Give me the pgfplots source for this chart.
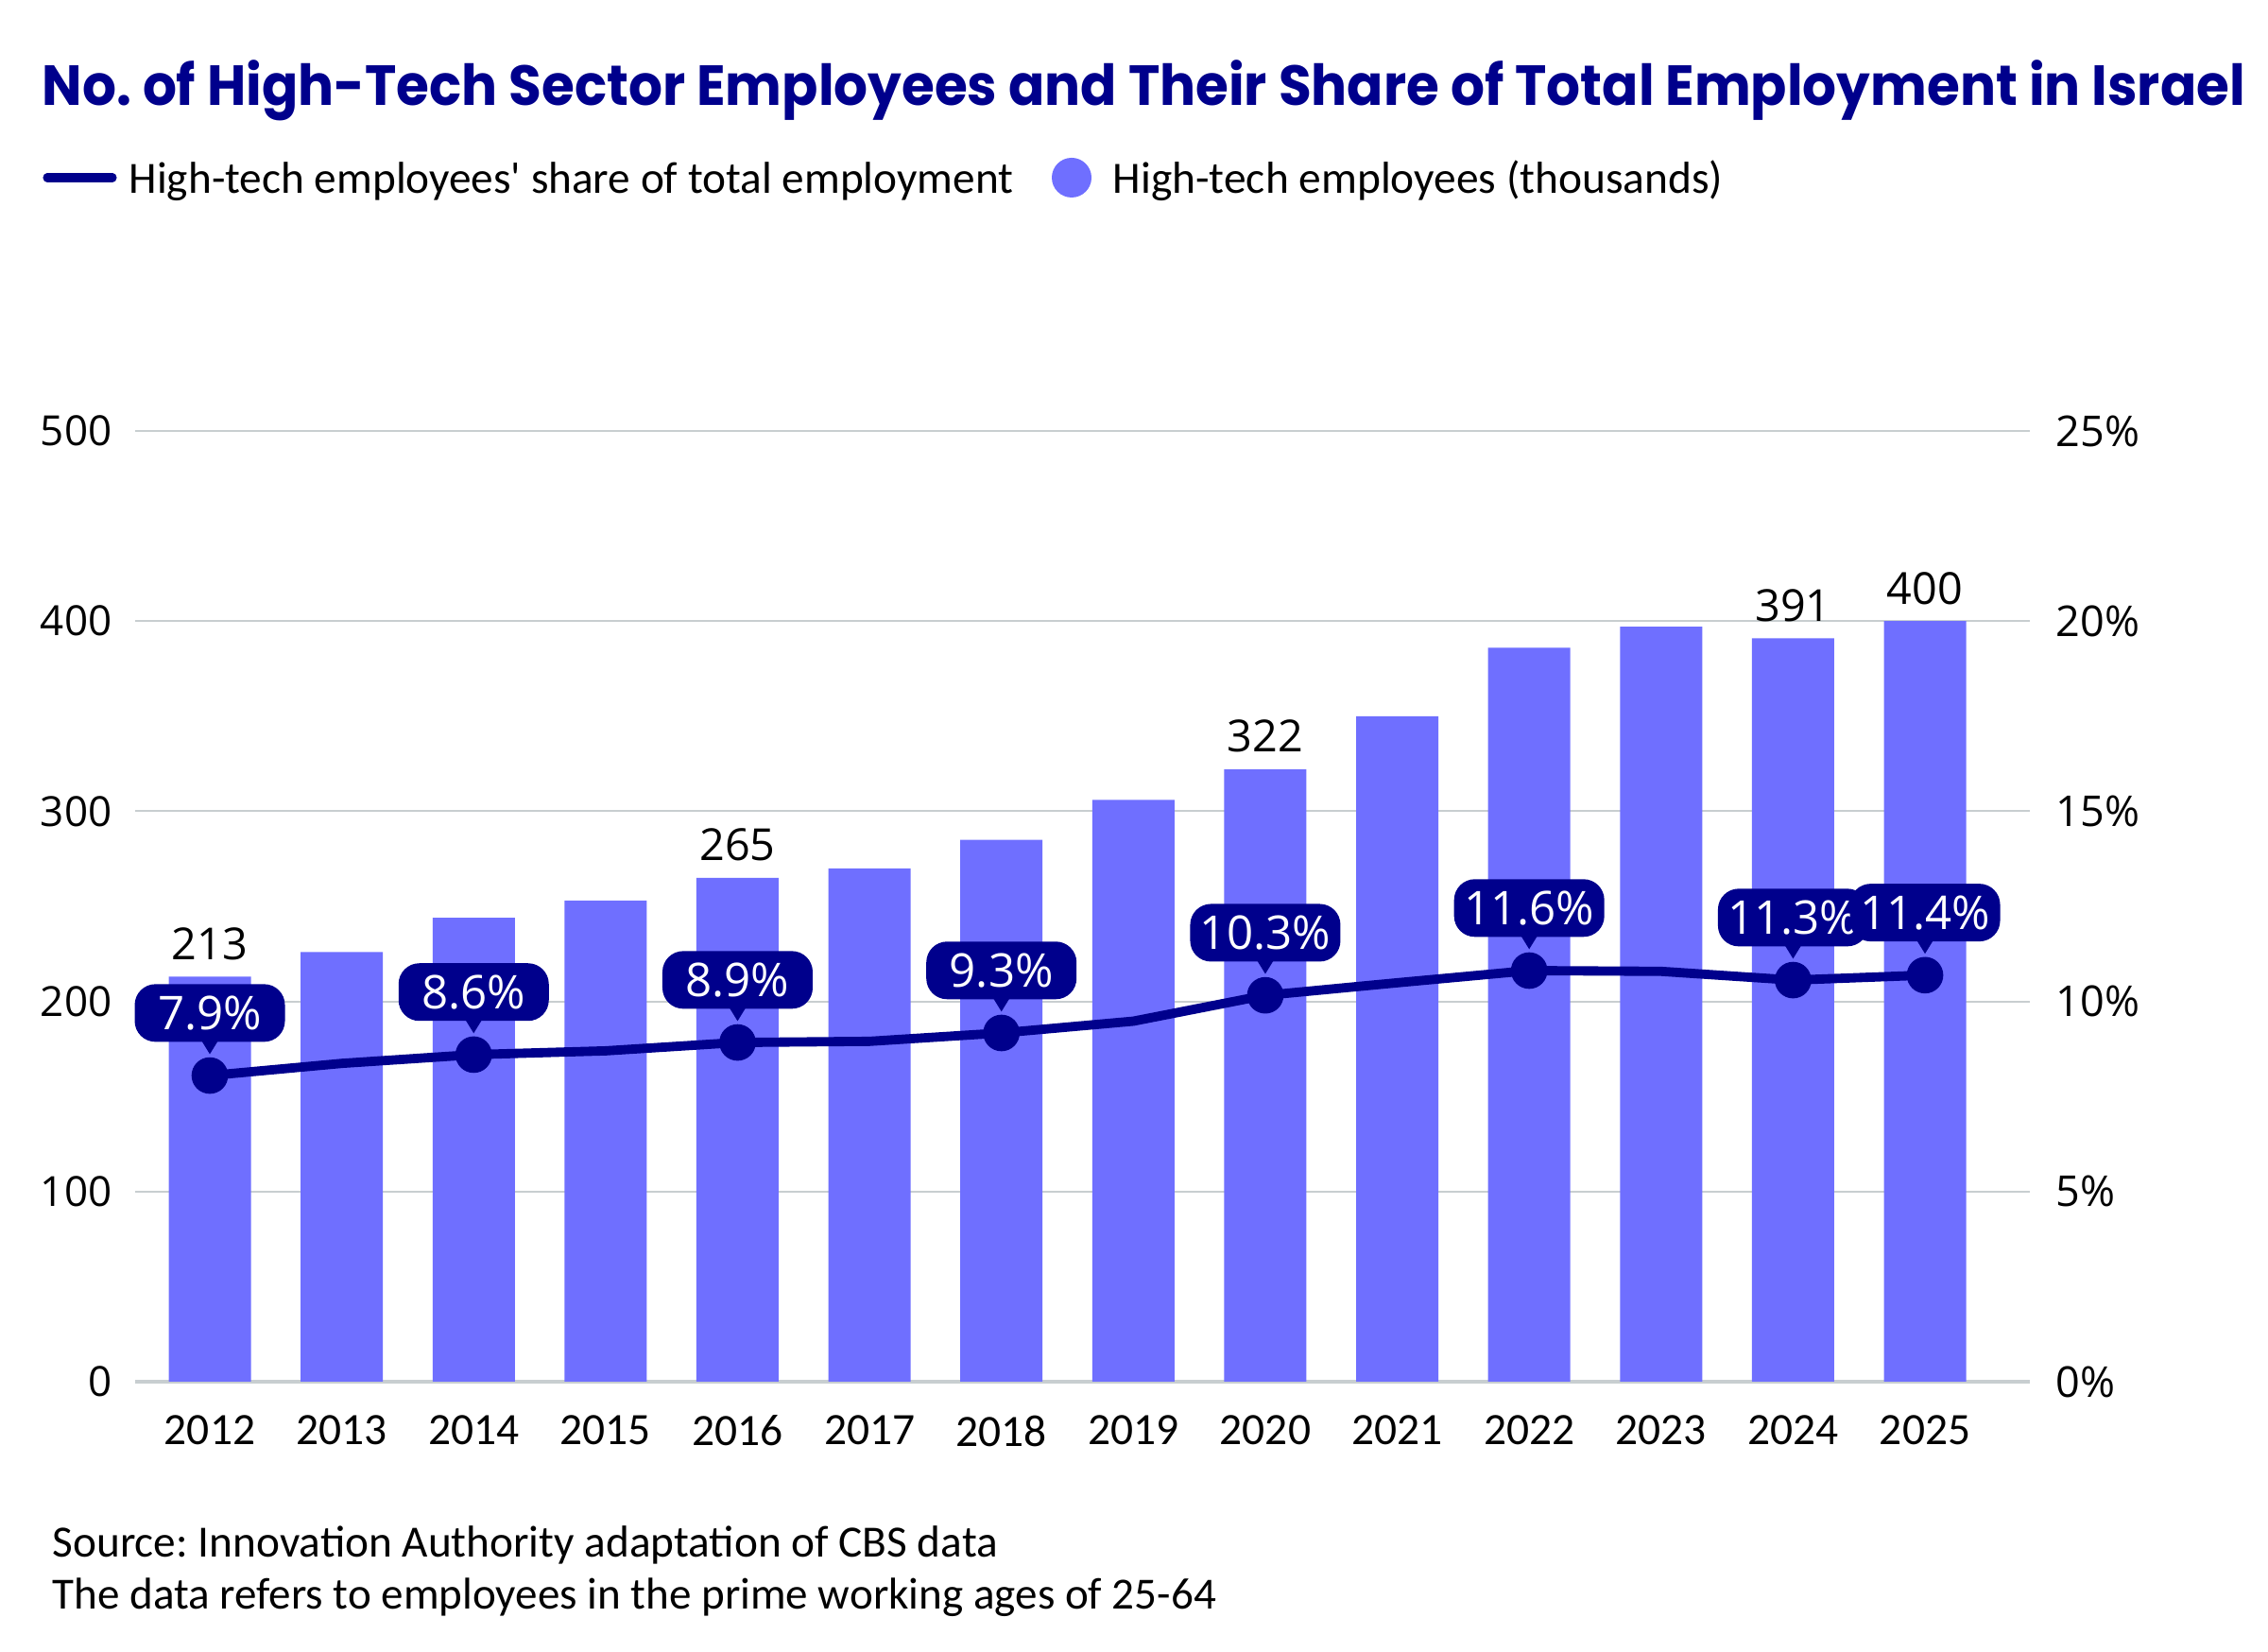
\documentclass[border=0pt]{standalone}
\usepackage{fontspec}
\usepackage{pgfplots}
\usepackage{pgfplotstable}
\pgfplotsset{compat=1.18}
\setmainfont{Carlito}
\newfontfamily\numfont{Open Sans}
\newfontfamily\titlefont{Poppins}
\definecolor{navy}{RGB}{0,0,140}
\definecolor{barc}{RGB}{111,111,255}
\definecolor{gridc}{RGB}{200,206,208}
\frenchspacing

\pgfplotstableread{
x val
0 213
1 226
2 244
3 253
4 265
5 270
6 285
7 306
8 322
9 350
10 386
11 397
12 391
13 400
}\bars

\pgfplotstableread{
x val lab
0 213 213
4 265 265
8 322 322
12 391 391
13 400 400
}\barlabs

\pgfplotstableread{
x pct
0 8.05
1 8.37
2 8.60
3 8.70
4 8.92
5 8.95
6 9.17
7 9.48
8 10.16
9 10.49
10 10.81
11 10.79
12 10.56
13 10.69
}\share

\pgfplotstableread{
x pct lab
0 8.05 7.9
2 8.60 8.6
4 8.92 8.9
6 9.17 9.3
8 10.16 10.3
10 10.81 11.6
12 10.56 11.3
13 10.69 11.4
}\sharelabs

\begin{document}
\begin{tikzpicture}
\useasboundingbox (0,0) rectangle (24,17.47);
\fill[white] (0,0) rectangle (24,17.47);

\node[anchor=base west, inner sep=0, text=navy, font=\titlefont\bfseries\fontsize{17}{17}\selectfont] at (0.44,16.35) {\scalebox{0.945}[1]{No. of High-Tech Sector Employees and Their Share of Total Employment in Israel}};

\draw[navy, line width=2.6pt, line cap=round] (0.50,15.59) -- (1.19,15.59);
\node[anchor=base west, inner sep=0, font=\fontsize{13.45}{13.45}\selectfont] at (1.36,15.42) {High-tech employees\textquotesingle{} share of total employment};
\fill[barc] (11.34,15.59) circle (0.21);
\node[anchor=base west, inner sep=0, font=\fontsize{13.5}{13.5}\selectfont] at (11.77,15.42) {High-tech employees (thousands)};

\node[anchor=base west, inner sep=0, font=\fontsize{13.45}{13.45}\selectfont] at (0.55,1.00) {Source: Innovation Authority adaptation of CBS data};
\node[anchor=base west, inner sep=0, font=\fontsize{13.4}{13.4}\selectfont] at (0.55,0.45) {The data refers to employees in the prime working ages of 25-64};

\begin{axis}[
  at={(1.43cm,2.85cm)}, anchor=south west,
  width=20.05cm, height=10.06cm, scale only axis,
  xmin=-0.566, xmax=13.795, ymin=0, ymax=500,
  axis x line*=bottom, axis y line*=left,
  axis line style={draw=none},
  major tick length=0,
  xtick={0,...,13},
  xticklabels={2012,2013,2014,2015,2016,2017,2018,2019,2020,2021,2022,2023,2024,2025},
  ytick={0,100,200,300,400,500},
  yticklabels={0,100,200,300,400,500},
  ymajorgrids,
  grid style={gridc, line width=0.6pt},
  extra y ticks={0}, extra y tick labels={},
  extra y tick style={grid style={gridc, line width=1.1pt}},
  xticklabel style={font=\fontsize{13.5}{13.5}\selectfont, inner sep=0pt, anchor=north, yshift=-0.35cm},
  yticklabel style={font=\numfont\fontsize{12.5}{12.5}\selectfont, inner sep=0pt, anchor=east, xshift=-0.24cm},
  clip=false,
]
\addplot[ybar, bar width=0.87cm, fill=barc, draw=none] table[x=x,y=val]{\bars};
\addplot[draw=none, mark=none, nodes near coords, point meta=explicit symbolic,
  nodes near coords style={anchor=south, inner sep=0pt, yshift=0.17cm, text=black, font=\numfont\fontsize{13.3}{13.3}\selectfont}]
  table[x=x,y=val,meta=lab]{\barlabs};
\end{axis}

\begin{axis}[
  at={(1.43cm,2.85cm)}, anchor=south west,
  width=20.05cm, height=10.06cm, scale only axis,
  xmin=-0.566, xmax=13.795, ymin=0, ymax=25,
  hide x axis,
  axis y line*=right,
  axis line style={draw=none},
  major tick length=0,
  ytick={0,5,10,15,20,25},
  yticklabels={0\%,5\%,10\%,15\%,20\%,25\%},
  yticklabel style={font=\numfont\fontsize{12.8}{12.8}\selectfont, inner sep=0pt, anchor=west, xshift=0.27cm},
  clip=false,
]
\addplot[navy, line width=2.8pt, mark=none] table[x=x,y=pct]{\share};
\addplot[only marks, mark=*, mark size=5.3pt, mark options={fill=navy, draw=navy},
  nodes near coords={\pgfplotspointmeta\%}, point meta=explicit symbolic,
  nodes near coords style={anchor=south, fill=navy, text=white, rounded corners=0.22cm,
    minimum width=1.59cm, minimum height=0.61cm, inner sep=0pt, yshift=0.35cm,
    font=\numfont\fontsize{14}{14}\selectfont,
    append after command={\pgfextra{\fill[navy, sharp corners] ([xshift=-0.08cm,yshift=0.02cm]\tikzlastnode.south) -- ([xshift=0.08cm,yshift=0.02cm]\tikzlastnode.south) -- ([yshift=-0.11cm]\tikzlastnode.south) -- cycle;}}}]
  table[x=x,y=pct,meta=lab]{\sharelabs};
\end{axis}
\end{tikzpicture}
\end{document}
